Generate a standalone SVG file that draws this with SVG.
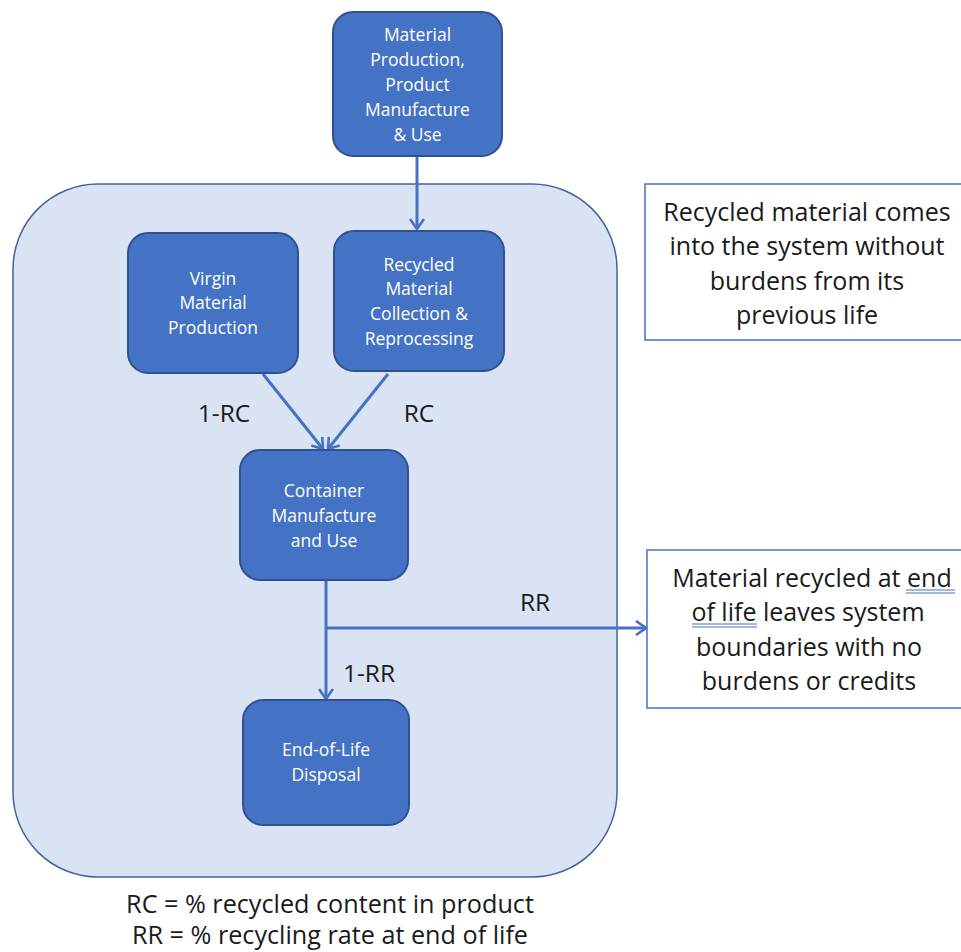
<svg xmlns="http://www.w3.org/2000/svg" width="961" height="952" viewBox="0 0 961 952">
<defs>
<style>
.node{fill:#4472c4;stroke:#2f528f;stroke-width:2}
.nt{font-family:"Open Sans","DejaVu Sans",sans-serif;font-size:17.5px;fill:#ffffff;text-anchor:middle}
.bt{font-family:"Open Sans","DejaVu Sans",sans-serif;font-size:25px;fill:#1a1a1a;text-anchor:middle}
.lbl{font-family:"Open Sans","DejaVu Sans",sans-serif;font-size:24.5px;fill:#1a1a1a;text-anchor:middle}
.leg{font-family:"Open Sans","DejaVu Sans",sans-serif;font-size:25.2px;fill:#1a1a1a;text-anchor:middle}
.note{fill:#ffffff;stroke:#4472c4;stroke-width:1.5}
.conn{fill:none;stroke:#4472c4;stroke-width:3}
.ul{stroke:#4472c4;stroke-width:1.2}
</style>
<marker id="arr" viewBox="0 0 12 16" refX="11" refY="8" markerWidth="12" markerHeight="16" markerUnits="userSpaceOnUse" orient="auto">
<path d="M1,1 L11,8 L1,15" fill="none" stroke="#4472c4" stroke-width="2.6"/>
</marker>
</defs>
<rect width="961" height="952" fill="#ffffff"/>
<g id="boundary">
<rect x="13" y="184" width="604" height="693" rx="85" ry="85" fill="#dae3f3" stroke="#41649e" stroke-width="1.5"/>
</g>
<g id="connectors">
<line class="conn" x1="417" y1="156" x2="417" y2="229" marker-end="url(#arr)"/>
<line class="conn" x1="263" y1="374" x2="323" y2="449" marker-end="url(#arr)"/>
<line class="conn" x1="388" y1="374" x2="328" y2="449" marker-end="url(#arr)"/>
<line class="conn" x1="326" y1="580" x2="326" y2="699" marker-end="url(#arr)"/>
<line class="conn" x1="326" y1="628" x2="646" y2="628" marker-end="url(#arr)"/>
</g>
<g id="node-top">
<rect class="node" x="333" y="12" width="169" height="144" rx="20"/>
<text class="nt"><tspan x="417.5" y="41">Material</tspan><tspan x="417.5" y="66">Production,</tspan><tspan x="417.5" y="91">Product</tspan><tspan x="417.5" y="116">Manufacture</tspan><tspan x="417.5" y="141">&amp; Use</tspan></text>
</g>
<g id="node-virgin">
<rect class="node" x="128" y="233" width="170" height="140" rx="20"/>
<text class="nt"><tspan x="213" y="285">Virgin</tspan><tspan x="213" y="309">Material</tspan><tspan x="213" y="334">Production</tspan></text>
</g>
<g id="node-recycled">
<rect class="node" x="334" y="231" width="170" height="140" rx="20"/>
<text class="nt"><tspan x="419" y="271">Recycled</tspan><tspan x="419" y="295">Material</tspan><tspan x="419" y="320">Collection &amp;</tspan><tspan x="419" y="345">Reprocessing</tspan></text>
</g>
<g id="node-container">
<rect class="node" x="240" y="450" width="168" height="130" rx="20"/>
<text class="nt"><tspan x="324" y="497">Container</tspan><tspan x="324" y="522">Manufacture</tspan><tspan x="324" y="547">and Use</tspan></text>
</g>
<g id="node-eol">
<rect class="node" x="243" y="700" width="166" height="125" rx="20"/>
<text class="nt"><tspan x="326" y="756">End-of-Life</tspan><tspan x="326" y="781">Disposal</tspan></text>
</g>
<g id="labels">
<text class="lbl" x="224" y="422">1-RC</text>
<text class="lbl" x="419" y="422">RC</text>
<text class="lbl" x="535" y="611">RR</text>
<text class="lbl" x="369" y="682">1-RR</text>
</g>
<g id="note-top">
<rect class="note" x="645" y="184" width="325" height="156"/>
<text class="bt"><tspan x="807" y="221">Recycled material comes</tspan><tspan x="807" y="255">into the system without</tspan><tspan x="807" y="290">burdens from its</tspan><tspan x="807" y="324">previous life</tspan></text>
</g>
<g id="note-bottom">
<rect class="note" x="647" y="550" width="323" height="158"/>
<text class="bt"><tspan x="812" y="587">Material recycled at end</tspan><tspan x="808" y="621">of life leaves system</tspan><tspan x="809" y="656">boundaries with no</tspan><tspan x="809" y="690">burdens or credits</tspan></text>
<line class="ul" x1="906" y1="590" x2="955" y2="590"/>
<line class="ul" x1="906" y1="593" x2="955" y2="593"/>
<line class="ul" x1="692" y1="624" x2="757" y2="624"/>
<line class="ul" x1="692" y1="627" x2="757" y2="627"/>
</g>
<g id="legend">
<text class="leg" x="330" y="913">RC = % recycled content in product</text>
<text class="leg" x="330" y="944">RR = % recycling rate at end of life</text>
</g>
</svg>
